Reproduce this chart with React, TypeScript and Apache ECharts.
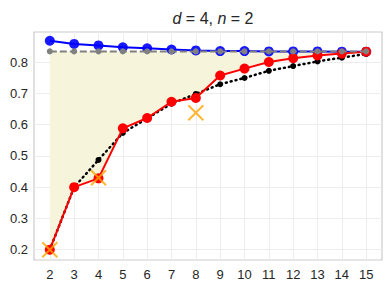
import React, { useEffect, useRef } from "react";
import * as echarts from "echarts";

const xs = [2, 3, 4, 5, 6, 7, 8, 9, 10, 11, 12, 13, 14, 15];
const blueVals = [0.868, 0.858, 0.853, 0.847, 0.844, 0.84, 0.837, 0.835, 0.835, 0.834, 0.834, 0.834, 0.833, 0.833];
const grayVals = [0.834, 0.834, 0.834, 0.834, 0.834, 0.834, 0.834, 0.834, 0.834, 0.834, 0.834, 0.834, 0.834, 0.834];
const redVals = [0.2, 0.4, 0.428, 0.588, 0.621, 0.673, 0.685, 0.757, 0.779, 0.8, 0.812, 0.821, 0.827, 0.833];
const blackVals = [0.2, 0.4, 0.487, 0.573, 0.62, 0.667, 0.698, 0.729, 0.749, 0.772, 0.787, 0.802, 0.814, 0.826];
const crossX = [2, 4, 8];
const crossVals = [0.2, 0.43, 0.638];
const yTicks = [0.2, 0.3, 0.4, 0.5, 0.6, 0.7, 0.8];

const pairs = (a: number[], b: number[]) => a.map((x, i) => [x, b[i]]);

export default function App() {
  const ref = useRef<HTMLDivElement>(null);
  useEffect(() => {
    const chart = echarts.init(ref.current!, null, { renderer: "svg" });
    const font = "Liberation Sans";
    chart.setOption({
      animation: false,
      title: {
        text: "{i|d} = 4, {i|n} = 2",
        left: 208,
        textAlign: "center",
        top: 5,
        textStyle: {
          fontFamily: font,
          fontSize: 16,
          fontWeight: "normal",
          color: "#262626",
          rich: { i: { fontStyle: "italic", fontFamily: font, fontSize: 16, color: "#262626" } },
        },
      },
      grid: { left: 34, right: 10, top: 32, bottom: 28, show: true, borderColor: "#cccccc", borderWidth: 1.2 },
      xAxis: {
        type: "value",
        min: 1.35,
        max: 15.65,
        axisLine: { show: false },
        axisTick: { show: false, customValues: xs },
        axisLabel: { customValues: xs, color: "#262626", fontFamily: font, fontSize: 13, margin: 8 },
        splitLine: { show: true, lineStyle: { color: "#ededed", width: 1 } },
      },
      yAxis: {
        type: "value",
        min: 0.167,
        max: 0.896,
        axisLine: { show: false },
        axisTick: { show: false, customValues: yTicks },
        axisLabel: { customValues: yTicks, color: "#262626", fontFamily: font, fontSize: 13, margin: 6, formatter: (v: number) => v.toFixed(1) },
        splitLine: { show: true, lineStyle: { color: "#ededed", width: 1 } },
      },
      series: [
        {
          type: "custom",
          data: xs.map((x, i) => [x, redVals[i], grayVals[i]]),
          silent: true,
          z: 1,
          renderItem: (params: any, api: any) => {
            if (params.dataIndex !== 0) return null;
            const top = xs.map((x, i) => api.coord([x, grayVals[i]]));
            const bottom = xs.map((x, i) => api.coord([x, redVals[i]])).reverse();
            return {
              type: "polygon",
              shape: { points: top.concat(bottom) },
              style: { fill: "#f6f4db", stroke: "none" },
            };
          },
        },
        {
          type: "line",
          data: pairs(xs, blueVals),
          symbol: "circle",
          symbolSize: 10,
          lineStyle: { color: "#0000ff", width: 2 },
          itemStyle: { color: "#0000ff", opacity: 0.9 },
          z: 2,
        },
        {
          type: "line",
          data: pairs(xs, blackVals),
          symbol: "circle",
          symbolSize: 6,
          lineStyle: { color: "#000000", width: 2.5, type: [1, 4], cap: "round" },
          itemStyle: { color: "#000000" },
          z: 3,
        },
        {
          type: "line",
          data: pairs(xs, redVals),
          symbol: "circle",
          symbolSize: 10,
          lineStyle: { color: "#ff0000", width: 2 },
          itemStyle: { color: "#ff0000" },
          z: 4,
        },
        {
          type: "line",
          data: pairs(xs, grayVals),
          symbol: "circle",
          symbolSize: 6,
          lineStyle: { color: "#808080", width: 2, type: [7, 3] },
          itemStyle: { color: "#808080" },
          z: 5,
        },
        {
          type: "scatter",
          data: pairs(crossX, crossVals),
          symbol: "path://M0,0L10,10M10,0L0,10",
          symbolSize: 15,
          itemStyle: { color: "none", borderColor: "#ffa500", borderWidth: 2 },
          z: 6,
        },
      ],
    });
    return () => chart.dispose();
  }, []);
  return <div ref={ref} style={{ width: 392, height: 288, position: "absolute", left: 0, top: 0 }} />;
}
